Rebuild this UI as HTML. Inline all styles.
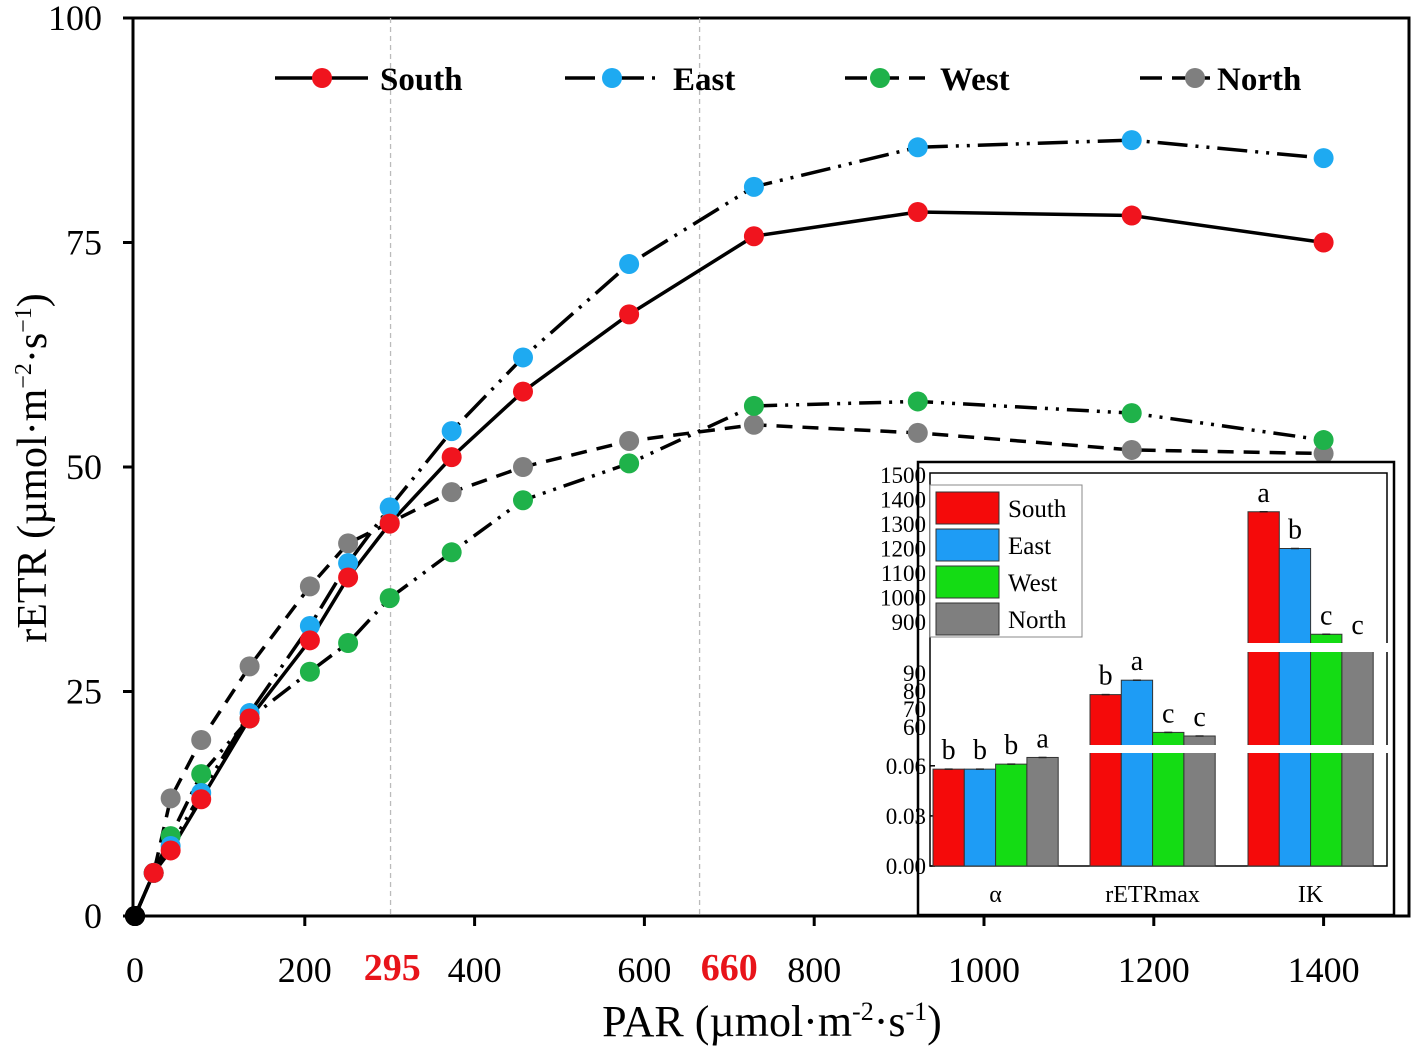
<!DOCTYPE html>
<html><head><meta charset="utf-8"><style>
html,body{margin:0;padding:0;background:#fff;}
svg{display:block;font-family:"Liberation Serif",serif;}
</style></head><body>
<svg id="chart" width="1417" height="1050" viewBox="0 0 1417 1050">
<g id="main"></g>
<g id="inset"></g>
</svg>
<script>
// ---- main chart data ----
const par = [0, 22, 42, 78, 135, 206, 251, 300, 373, 457, 582, 729, 922, 1174, 1400];
const southVals = [0, 4.8, 7.3, 13, 22, 30.7, 37.7, 43.7, 51.1, 58.4, 67, 75.7, 78.4, 78, 75];
const eastVals  = [0, 4.8, 7.8, 13.7, 22.6, 32.3, 39.3, 45.5, 54, 62.2, 72.6, 81.2, 85.6, 86.4, 84.4];
const westVals  = [0, 4.8, 8.9, 15.8, 22, 27.2, 30.4, 35.4, 40.5, 46.3, 50.4, 56.8, 57.3, 56, 53];
const northVals = [0, 4.8, 13.1, 19.6, 27.8, 36.7, 41.5, 43.8, 47.2, 50, 52.9, 54.7, 53.8, 51.9, 51.5];
const xTicks = [0, 200, 400, 600, 800, 1000, 1200, 1400];
const yTicks = [0, 25, 50, 75, 100];
const markLines = [301, 665];
const markLabels = ["295", "660"];
const markLabelPos = [303, 700];
// ---- inset data ----
const insetCats = ["α", "rETRmax", "IK"];
const insetSouth = [0.058, 78, 1350];
const insetEast  = [0.058, 86, 1200];
const insetWest  = [0.061, 57, 850];
const insetNorth = [0.065, 55, 810];
const insetLetters = [["b","b","b","a"],["b","a","c","c"],["a","b","c","c"]];

const NS = "http://www.w3.org/2000/svg";
function mk(tag, attrs, parent, text){
  const e = document.createElementNS(NS, tag);
  for (const k in attrs) e.setAttribute(k, attrs[k]);
  if (text !== undefined) e.textContent = text;
  parent.appendChild(e);
  return e;
}
const X = v => 135 + v * 0.849;
const Y = v => 916 - v * 8.98;
const main = document.getElementById('main');

let fr = mk('rect', {x:133, y:18, width:1276, height:898, fill:'none', stroke:'#000', 'stroke-width':3}, main);



markLines.forEach(v => {
  const l = mk('line', {x1:X(v), x2:X(v), y1:18, y2:916, stroke:'#bbb', 'stroke-width':1.3, 'stroke-dasharray':'5,4'}, main);
  
  
});

xTicks.forEach(t => {
  mk('line', {x1:X(t), x2:X(t), y1:916, y2:926, stroke:'#000', 'stroke-width':3}, main);
  const tx = mk('text', {x:X(t), y:982, 'font-size':36, 'text-anchor':'middle'}, main, t);
  
  
});
markLabels.forEach((v, i) => {
  const tx = mk('text', {x:X(markLabelPos[i]), y:980, 'font-size':38, 'font-weight':'bold', fill:'#e8141a', 'text-anchor':'middle'}, main, v);
  
  
});
yTicks.forEach(t => {
  mk('line', {x1:123, x2:133, y1:Y(t), y2:Y(t), stroke:'#000', 'stroke-width':3}, main);
  const tx = mk('text', {x:102, y:Y(t)+12, 'font-size':36, 'text-anchor':'end'}, main, t);
  
  
});
let xt = mk('text', {x:772, y:1036, 'font-size':44, 'text-anchor':'middle'}, main);
xt.innerHTML = 'PAR (µmol·m<tspan font-size="26" dy="-16">-2</tspan><tspan dy="16">·s</tspan><tspan font-size="26" dy="-16">-1</tspan><tspan dy="16">)</tspan>';


let yt = mk('text', {x:0, y:0, 'font-size':42, 'text-anchor':'middle', transform:'translate(46,468) rotate(-90)'}, main);
yt.innerHTML = 'rETR (µmol·m<tspan font-size="24" dy="-15">−2</tspan><tspan dy="15">·s</tspan><tspan font-size="24" dy="-15">−1</tspan><tspan dy="15">)</tspan>';



const series = [
  {name:'north', vals:northVals, color:'#7f7f7f', dash:'16,10'},
  {name:'west', vals:westVals, color:'#1fb24a', dash:'22,8,3,8,3,8'},
  {name:'east', vals:eastVals, color:'#1eaaf1', dash:'30,8,3,8,3,8'},
  {name:'south', vals:southVals, color:'#f0141e', dash:''}
];
series.forEach(s => {
  const pts = par.map((p,i) => X(p) + ',' + Y(s.vals[i])).join(' ');
  const pl = mk('polyline', {points:pts, fill:'none', stroke:'#000', 'stroke-width':3.5, 'stroke-dasharray':s.dash}, main);
  
  
});
series.forEach(s => {
  par.forEach((p,i) => {
    const c = mk('circle', {cx:X(p), cy:Y(s.vals[i]), r:10, fill: i===0 ? '#000' : s.color}, main);
    
    
  });
});

const leg = [
  {label:'South', color:'#f0141e', dash:'', x1:275, x2:368, cx:322, tx:380},
  {label:'East', color:'#1eaaf1', dash:'30,8,3,8', x1:565, x2:657, cx:612, tx:673},
  {label:'West', color:'#1fb24a', dash:'22,10', x1:845, x2:925, cx:880, tx:940},
  {label:'North', color:'#7f7f7f', dash:'22,10', x1:1140, x2:1210, cx:1195, tx:1217}
];
leg.forEach(l => {
  const g = mk('g', {}, main);
  
  
  mk('line', {x1:l.x1, x2:l.x2, y1:78, y2:78, stroke:'#000', 'stroke-width':3.5, 'stroke-dasharray':l.dash}, g);
  mk('circle', {cx:l.cx, cy:78, r:10, fill:l.color}, g);
  mk('text', {x:l.tx, y:90, 'font-size':33, 'font-weight':'bold'}, g, l.label);
});

// ---- inset ----
const ins = document.getElementById('inset');
mk('rect', {x:918, y:462, width:476, height:453, fill:'#fff', stroke:'#000', 'stroke-width':2.5}, ins);
const IL = 930, IR = 1387, IB = 866;
function IY(v, k){
  if (k === 0) return IB - v * 1670;
  if (k === 1) return 727 - (v - 60) * 1.8;
  return 622 - (v - 900) * 0.245;
}
let ia = mk('rect', {x:IL, y:473, width:IR-IL, height:IB-473, fill:'none', stroke:'#000', 'stroke-width':1.5}, ins);


const bTicks = [0, 0.03, 0.06], mTicks = [60,70,80,90], tTicks = [900,1000,1100,1200,1300,1400,1500];
bTicks.forEach(t => { mk('line',{x1:IL,x2:IL+5,y1:IY(t,0),y2:IY(t,0),stroke:'#000','stroke-width':1.5},ins);
  const e = mk('text',{x:IL-4,y:IY(t,0)+8,'font-size':23,'text-anchor':'end'},ins,t.toFixed(2));
    });
mTicks.forEach(t => { const e = mk('text',{x:IL-4,y:IY(t,1)+8,'font-size':23,'text-anchor':'end'},ins,t);
    });
tTicks.forEach(t => { const e = mk('text',{x:IL-4,y:IY(t,2)+8,'font-size':23,'text-anchor':'end'},ins,t);
    });

const groupLeft = [933, 1090, 1248];
const bw = 31.3;
const insetSeries = [insetSouth, insetEast, insetWest, insetNorth];
const insetColors = ['#f50a0a','#1e9cf5','#14dc14','#7f7f7f'];
const letterPos = [];
insetCats.forEach((cat, gi) => {
  insetSeries.forEach((vals, si) => {
    const v = vals[gi];
    const x = groupLeft[gi] + si * bw;
    const y = IY(v, gi);
    const b = mk('rect', {x:x, y:y, width:bw, height:IB - y, fill:insetColors[si], stroke:'#333', 'stroke-width':1}, ins);
    
    
    mk('line', {x1:x+bw/2-4, x2:x+bw/2+4, y1:y, y2:y, stroke:'#222', 'stroke-width':1.5}, ins);
    letterPos.push([x+bw/2, y-10, insetLetters[gi][si]]);
  });
  const ct = mk('text', {x:groupLeft[gi] + 2*bw, y:902, 'font-size':24, 'text-anchor':'middle'}, ins, cat);
  
  
});
[[1085,643,652],[1085,745,753]].forEach(([x0,a,b]) => {
  const r = mk('rect', {x:x0, y:a, width:IR-x0+2, height:b-a, fill:'#fff'}, ins);
  
  
});
letterPos.forEach(([x,y,s]) => {
  const t = mk('text', {x:x, y:y, 'font-size':28, 'text-anchor':'middle'}, ins, s);
  
  
});
mk('rect', {x:930, y:485, width:152, height:152, fill:'#fff', stroke:'#888', 'stroke-width':1}, ins);
['South','East','West','North'].forEach((n, i) => {
  const g = mk('g', {}, ins);
  
  
  mk('rect', {x:936, y:492 + i*37, width:63, height:32, fill:insetColors[i], stroke:'#333', 'stroke-width':1}, g);
  mk('text', {x:1008, y:517 + i*37, 'font-size':25}, g, n);
});
</script>
</body></html>
